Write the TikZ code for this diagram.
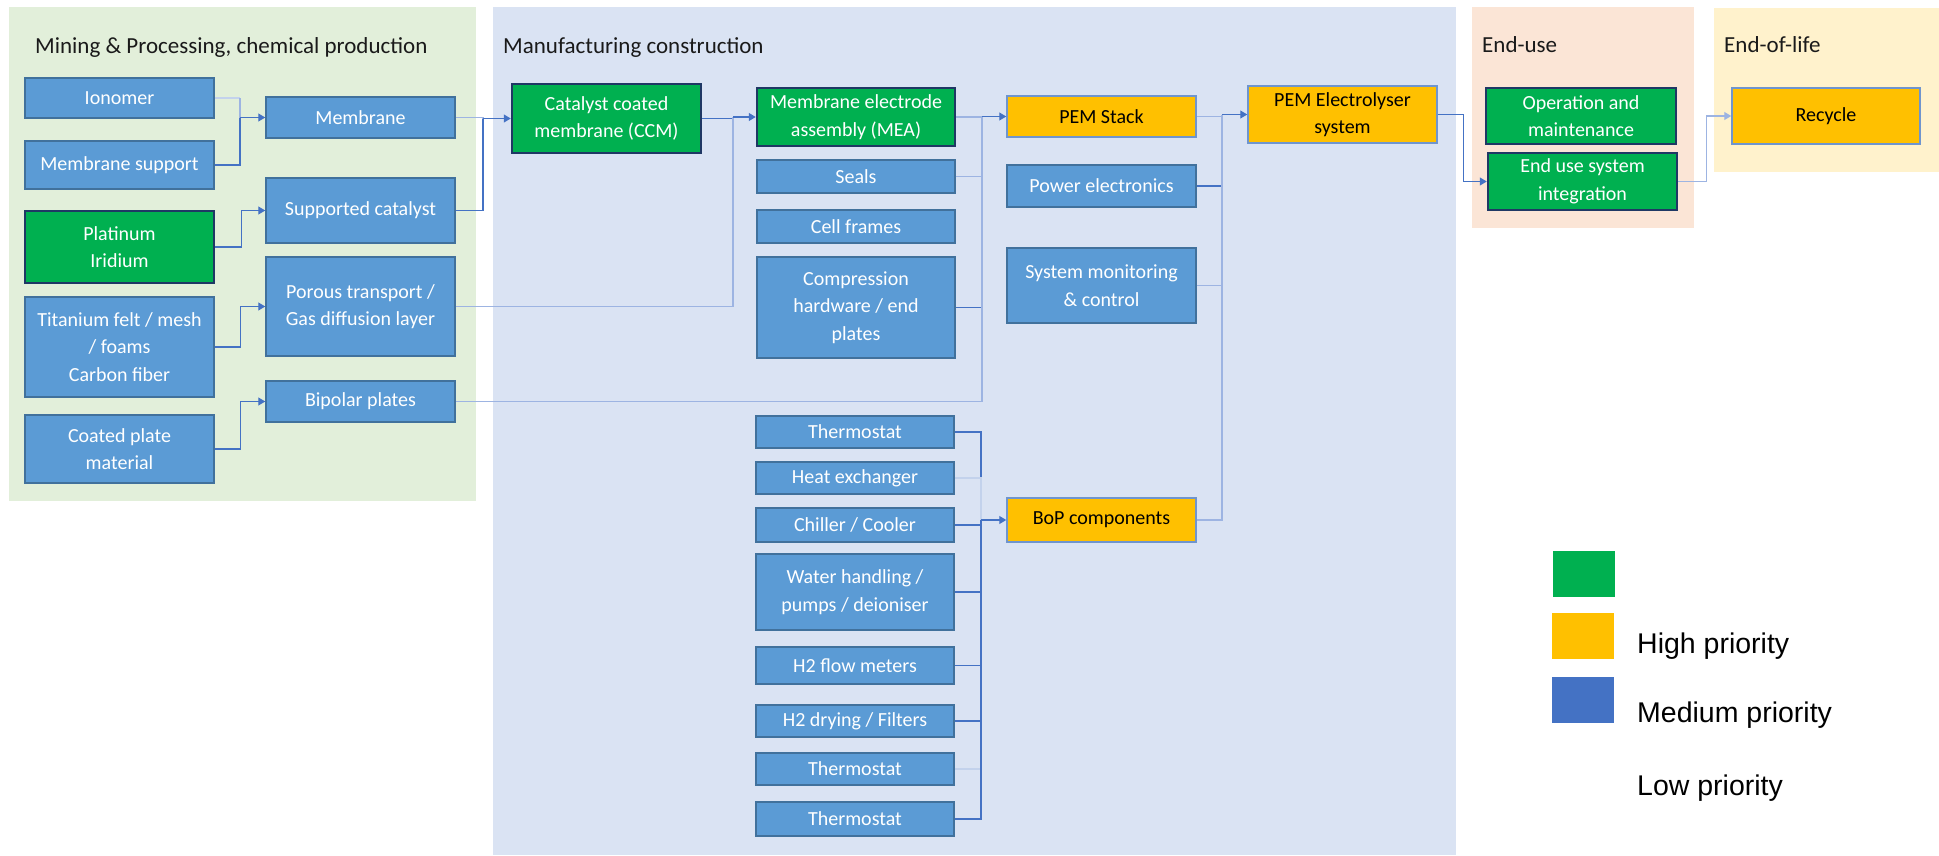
\documentclass[tikz,border=0pt]{standalone}
\usepackage{fontspec}
\setmainfont{Carlito}
\newfontfamily\legendfont{Liberation Sans}
\usetikzlibrary{arrows.meta,calc}
\definecolor{cblue}{HTML}{5B9BD5}
\definecolor{cblueborder}{HTML}{41719C}
\definecolor{cgreen}{HTML}{00B050}
\definecolor{cnavy}{HTML}{1F3864}
\definecolor{corange}{HTML}{FFC000}
\definecolor{corangeborder}{HTML}{6F95CE}
\definecolor{cline}{HTML}{4472C4}
\definecolor{cfaint}{HTML}{9DB4E2}
\definecolor{cghost}{HTML}{C3D2EC}
\definecolor{pgreen}{HTML}{E2EFDA}
\definecolor{pblue}{HTML}{DAE3F3}
\definecolor{ppeach}{HTML}{FBE5D6}
\definecolor{pyellow}{HTML}{FFF2CC}
\definecolor{legblue}{HTML}{4472C4}
\definecolor{ctitle}{HTML}{1A1A1A}
\tikzset{
  basebox/.style={rectangle, line width=1.5pt, align=center, inner sep=2pt,
    font=\fontsize{20}{27.5}\selectfont, text=white},
  bluebox/.style={basebox, fill=cblue, draw=cblueborder},
  greenbox/.style={basebox, fill=cgreen, draw=cnavy, line width=2.5pt},
  orangebox/.style={basebox, fill=corange, draw=corangeborder, text=black},
  conn/.style={draw=cline, line width=1.3pt},
  faint/.style={draw=cfaint, line width=1.3pt},
  ghost/.style={draw=cghost, line width=1.1pt},
  arr/.style={conn, -{Triangle[length=7pt,width=8pt]}},
  farr/.style={faint, -{Triangle[length=7pt,width=8pt]}},
  paneltitle/.style={anchor=base west, inner sep=0pt, text=ctitle, font=\fontsize{23}{27}\selectfont},
  legtext/.style={anchor=base west, inner sep=0pt, text=black, font=\legendfont\fontsize{28.5}{32}\selectfont},
}
\begin{document}
\begin{tikzpicture}[x=1pt,y=-1pt]
\useasboundingbox (0,0) rectangle (1939,855);
% panels
\fill[pgreen] (9,7) rectangle (476,501);
\fill[pblue] (493,7) rectangle (1456,855);
\fill[ppeach] (1472,7) rectangle (1694,228);
\fill[pyellow] (1714,8) rectangle (1939,172);
\node[paneltitle] (t1) at (35,53) {Mining \& Processing, chemical production};
\node[paneltitle] (t2) at (503,53) {Manufacturing construction};
\node[paneltitle] (t3) at (1482,52) {End-use};
\node[paneltitle] (t4) at (1724,52) {End-of-life};

% column 1
\node[bluebox, minimum width=189pt, minimum height=40pt] (ion) at (119.5,98) {Ionomer};
\node[bluebox, minimum width=189pt, minimum height=48pt] (msup) at (119.5,165) {Membrane support};
\node[greenbox, minimum width=189pt, minimum height=72pt] (pt) at (119.5,247) {Platinum\\Iridium};
\node[bluebox, minimum width=189pt, minimum height=100pt] (ti) at (119.5,347) {Titanium felt / mesh\\/ foams\\Carbon fiber};
\node[bluebox, minimum width=189pt, minimum height=68pt] (coat) at (119.5,449) {Coated plate\\material};
% column 2
\node[bluebox, minimum width=189pt, minimum height=41pt] (mem) at (360.5,117.5) {Membrane};
\node[bluebox, minimum width=189pt, minimum height=65pt] (supcat) at (360.5,210.5) {Supported catalyst};
\node[bluebox, minimum width=189pt, minimum height=99pt] (ptl) at (360.5,306.5) {Porous transport /\\Gas diffusion layer};
\node[bluebox, minimum width=189pt, minimum height=41pt] (bip) at (360.5,401.5) {Bipolar plates};
% CCM
\node[greenbox, minimum width=189pt, minimum height=69pt] (ccm) at (606.5,118.5) {Catalyst coated\\membrane (CCM)};
% MEA column
\node[greenbox, minimum width=198pt, minimum height=58pt] (mea) at (856,117) {Membrane electrode\\assembly (MEA)};
\node[bluebox, minimum width=198pt, minimum height=33pt] (seals) at (856,176.5) {Seals};
\node[bluebox, minimum width=198pt, minimum height=33pt] (frames) at (856,226.5) {Cell frames};
\node[bluebox, minimum width=198pt, minimum height=101pt] (comp) at (856,307.5) {Compression\\hardware / end\\plates};
% BoP inputs
\node[bluebox, minimum width=198pt, minimum height=32pt] (th1) at (855,432) {Thermostat};
\node[bluebox, minimum width=198pt, minimum height=32pt] (hx) at (855,478) {Heat exchanger};
\node[bluebox, minimum width=198pt, minimum height=34pt] (chill) at (855,525) {Chiller / Cooler};
\node[bluebox, minimum width=198pt, minimum height=76pt] (water) at (855,592) {Water handling /\\pumps / deioniser};
\node[bluebox, minimum width=198pt, minimum height=37pt] (h2f) at (855,665.5) {H2 flow meters};
\node[bluebox, minimum width=198pt, minimum height=32pt] (h2d) at (855,721) {H2 drying / Filters};
\node[bluebox, minimum width=198pt, minimum height=32pt] (th2) at (855,769) {Thermostat};
\node[bluebox, minimum width=198pt, minimum height=34pt] (th3) at (855,819) {Thermostat};
% column 4
\node[orangebox, minimum width=189pt, minimum height=41pt] (stack) at (1101.5,116.5) {PEM Stack};
\node[bluebox, minimum width=189pt, minimum height=42pt] (pe) at (1101.5,186) {Power electronics};
\node[bluebox, minimum width=189pt, minimum height=75pt] (smc) at (1101.5,285.5) {System monitoring\\\& control};
\node[orangebox, minimum width=189pt, minimum height=44pt] (bop) at (1101.5,520) {BoP components};
% system
\node[orangebox, minimum width=189pt, minimum height=57pt] (elec) at (1342.5,114.5) {PEM Electrolyser\\system};
% end use
\node[greenbox, minimum width=190pt, minimum height=56pt] (om) at (1581,116) {Operation and\\maintenance};
\node[greenbox, minimum width=189pt, minimum height=57pt] (eusi) at (1582.5,181.5) {End use system\\integration};
\node[orangebox, minimum width=188pt, minimum height=56pt] (rec) at (1826,116) {Recycle};

% junctions
\coordinate (jA) at (240,117.5);
\coordinate (jC) at (483,118.5);
\coordinate (jD) at (733,117);
\coordinate (jE) at (982,116.5);
\coordinate (jF) at (1222,114.5);
\coordinate (jG) at (981,520);
\coordinate (jAtop) at (240,98);

% connectors
\draw[ghost] (ion.east) -- (jAtop);
\draw[faint] (jAtop) -- (jA);
\draw[conn] (msup.east) -| (jA);
\draw[arr] (jA) -- (mem.west);
\draw[arr] (pt.east) -- ++(26,0) |- (supcat.west);
\draw[arr] (ti.east) -- ++(26,0) |- (ptl.west);
\draw[arr] (coat.east) -- ++(26,0) |- (bip.west);

\draw[faint] (mem.east) -| (jC);
\draw[conn] (supcat.east) -| (jC);
\draw[arr] (jC) -- (ccm.west);

\draw[conn] (ccm.east) -| (jD);
\draw[faint] (ptl.east) -| (jD);
\draw[arr] (jD) -- (mea.west);

\draw[faint] (mea.east) -| (jE);
\draw[faint] (seals.east) -| (jE);
\draw[conn] (comp.east) -| (jE);
\draw[faint] (bip.east) -| (jE);
\draw[arr] (jE) -- (stack.west);

\draw[faint] (stack.east) -| (jF);
\draw[conn] (pe.east) -| (jF);
\draw[faint] (smc.east) -| (jF);
\draw[faint] (bop.east) -| (jF);
\draw[arr] (jF) -- (elec.west);

\draw[conn] (th1.east) -| (jG);
\draw[ghost] (hx.east) -| (jG);
\draw[conn] (chill.east) -| (jG);
\draw[conn] (water.east) -| (jG);
\draw[conn] (h2f.east) -| (jG);
\draw[conn] (h2d.east) -| (jG);
\draw[ghost] (th2.east) -| (jG);
\draw[conn] (th3.east) -| (jG);
\draw[arr] (jG) -- (bop.west);

\draw[arr] (elec.east) -- ++(26,0) |- (eusi.west);
\draw[farr] (eusi.east) -- ++(28,0) |- (rec.west);

% legend
\fill[cgreen] (1553,551) rectangle (1615,597);
\fill[corange] (1552,613) rectangle (1614,659);
\fill[legblue] (1552,677) rectangle (1614,723);
\node[legtext] (lh) at (1637,653) {High priority};
\node[legtext] (lm) at (1637,722) {Medium priority};
\node[legtext] (ll) at (1637,795) {Low priority};
\end{tikzpicture}
\end{document}
